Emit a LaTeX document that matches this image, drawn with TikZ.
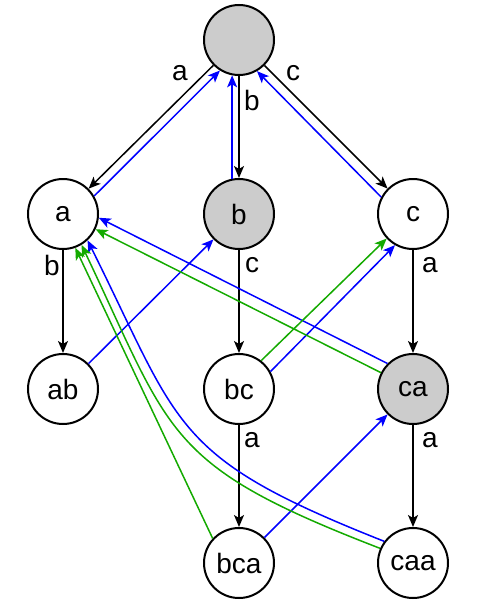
\documentclass[tikz,border=0pt]{standalone}
\usepackage{fontspec}
\setmainfont{Liberation Sans}
\usetikzlibrary{arrows.meta}

\definecolor{dictgreen}{RGB}{20,170,0}
\definecolor{hitgray}{RGB}{204,204,204}

\begin{document}
\begin{tikzpicture}[x=1pt, y=-1pt,
    state/.style={circle, draw, line width=2pt, minimum size=70pt, inner sep=0pt, font=\fontsize{28}{30}\selectfont},
    hit/.style={state, fill=hitgray},
    lbl/.style={inner sep=1pt, font=\fontsize{28}{30}\selectfont},
    trie/.style={-{Stealth[length=12pt, width=10pt, inset=3pt]}, line width=1.5pt},
    fail/.style={-{Stealth[length=12pt, width=10pt, inset=3pt]}, blue, line width=1.5pt},
    dict/.style={-{Stealth[length=12pt, width=10pt, inset=3pt]}, dictgreen, line width=1.5pt}]
    \useasboundingbox (0,0) rectangle (494,602);

    % Draw the states
    \node[hit]   (root) at (239,40)  {};
    \node[state] (a)    at (63,214)  {a};
    \node[hit]   (b)    at (239,214) {b};
    \node[state] (c)    at (413,214) {c};
    \node[state] (ab)   at (63,389)  {ab};
    \node[state] (bc)   at (239,389) {bc};
    \node[hit]   (ca)   at (413,389) {ca};
    \node[state] (bca)  at (239,563) {bca};
    \node[state] (caa)  at (413,563) {caa};

    % Draw trie edges
    \foreach \u/\v in {root/a, root/b, root/c, a/ab, b/bc, c/ca, bc/bca, ca/caa}
        \draw[trie] (\u) -- (\v);

    % Edge letters
    \node[lbl] (l-ra)   at (180,73)  {a};
    \node[lbl] (l-rb)   at (252,100) {b};
    \node[lbl] (l-rc)   at (293,73)  {c};
    \node[lbl] (l-aab)  at (52,265)  {b};
    \node[lbl] (l-bbc)  at (252,265) {c};
    \node[lbl] (l-cca)  at (430,265) {a};
    \node[lbl] (l-bca)  at (252,440) {a};
    \node[lbl] (l-caa)  at (430,440) {a};

    % Draw failure links
    \draw[fail] (a.30) -- (root.238);
    \draw[fail] (b.101) -- (root.259);
    \draw[fail] (c.152) -- (root.-60);
    \draw[fail] (ab) -- (b);
    \draw[fail] (bc.29) -- (c.240);
    \draw[fail] (ca.135) -- (a.-6);
    \draw[fail] (bca) -- (ca);
    \draw[fail] (caa.143) .. controls (171,457) and (181,428) .. (a.-47);

    % Draw dictionary links
    \draw[dict] (bc.52) -- (c.223);
    \draw[dict] (ca.153) -- (a.-25);
    \draw[dict] (bca.137) -- (a.-70);
    \draw[dict] (caa.156) .. controls (164,465) and (172,435) .. (a.-59);
\end{tikzpicture}
\end{document}
